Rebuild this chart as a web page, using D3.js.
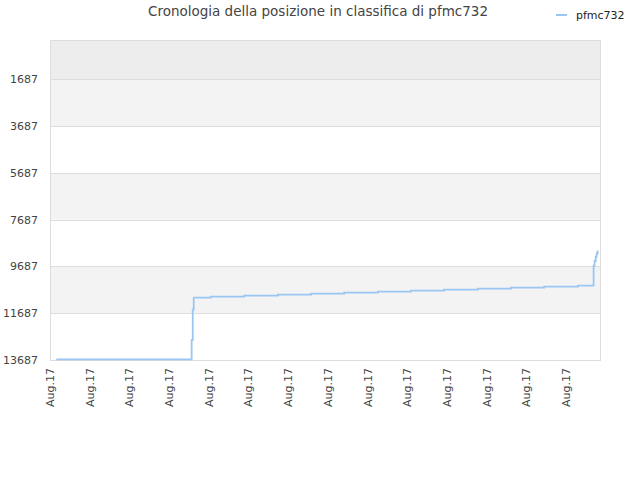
<!DOCTYPE html>
<html>
<head>
<meta charset="utf-8">
<script src="https://cdn.jsdelivr.net/npm/d3@7"></script>
<style>
  body { margin: 0; background: #fff; }
  svg { font-family: "DejaVu Sans", sans-serif; }
</style>
</head>
<body>
<svg></svg>
<script>
const width = 640;
const height = 480;

// hours since start of series, rank position
const hours = [4.5, 101.9, 102.7, 103.4, 115.8, 139.7, 163.9, 187.8, 211.6, 235.9, 259.7, 283.6, 307.8, 331.7, 355.5, 379.8, 391.1, 391.8, 392.6, 393.3, 394.0, 394.6];
const ranks = [13662, 12832, 11519, 11023, 10980, 10937, 10894, 10851, 10808, 10766, 10723, 10680, 10637, 10594, 10551, 10508, 9653, 9453, 9270, 9124, 9039, 9039];

const yTicks = [1687, 3687, 5687, 7687, 9687, 11687, 13687];
const xTicks = [0, 28.6, 57.1, 85.7, 114.2, 142.8, 171.4, 199.9, 228.5, 257.0, 285.6, 314.2, 342.7, 371.3];
const xTickLabels = ["Aug.17", "Aug.17", "Aug.17", "Aug.17", "Aug.17", "Aug.17", "Aug.17", "Aug.17", "Aug.17", "Aug.17", "Aug.17", "Aug.17", "Aug.17", "Aug.17"];
const seriesName = "pfmc732";

const margin = {top: 40, right: 40, bottom: 120, left: 50};
const svg = d3.select("svg").attr("width", width).attr("height", height);

const x = d3.scaleLinear().domain([0, 395.7]).range([margin.left, width - margin.right]);
const y = d3.scaleLinear().domain([1, 13687]).range([margin.top, height - margin.bottom]);

// background bands
const bandEdges = [1, 1687, 3687, 5687, 7687, 9687, 11687, 13687];
const bandFills = ["#ededed", "#f3f3f3", "#ffffff", "#f3f3f3", "#ffffff", "#f3f3f3", "#ffffff"];
svg.append("g").selectAll("rect")
  .data(bandFills)
  .join("rect")
  .attr("x", margin.left)
  .attr("width", x.range()[1] - margin.left)
  .attr("y", (d, i) => y(bandEdges[i]))
  .attr("height", (d, i) => y(bandEdges[i + 1]) - y(bandEdges[i]))
  .attr("fill", d => d);

// gridlines
svg.append("g").selectAll("line")
  .data(yTicks)
  .join("line")
  .attr("x1", margin.left)
  .attr("x2", x.range()[1])
  .attr("y1", d => Math.round(y(d)) + 0.5)
  .attr("y2", d => Math.round(y(d)) + 0.5)
  .attr("stroke", "#dddddd");

// frame
svg.append("rect")
  .attr("x", margin.left + 0.5)
  .attr("y", margin.top + 0.5)
  .attr("width", x.range()[1] - margin.left)
  .attr("height", y.range()[1] - margin.top)
  .attr("fill", "none")
  .attr("stroke", "#dddddd");

// y labels
svg.append("g").selectAll("text")
  .data(yTicks)
  .join("text")
  .attr("x", 38)
  .attr("y", d => y(d))
  .attr("dy", "0.35em")
  .attr("text-anchor", "end")
  .attr("font-size", 11)
  .attr("fill", "#444")
  .text(d => d);

// x labels
svg.append("g").selectAll("text")
  .data(xTicks)
  .join("text")
  .attr("transform", d => `translate(${x(d) + 4},${y.range()[1] + 8}) rotate(-90)`)
  .attr("text-anchor", "end")
  .attr("font-size", 11)
  .attr("fill", "#444")
  .text((d, i) => xTickLabels[i]);

// series line
const line = d3.line()
  .x((d, i) => x(hours[i]))
  .y(d => y(d))
  .curve(d3.curveStepAfter);

svg.append("path")
  .datum(ranks)
  .attr("d", line)
  .attr("fill", "none")
  .attr("stroke", "#99c6f2")
  .attr("stroke-width", 1.8);

// title
svg.append("text")
  .attr("x", 318)
  .attr("y", 16)
  .attr("text-anchor", "middle")
  .attr("font-size", 13.5)
  .attr("fill", "#444")
  .text("Cronologia della posizione in classifica di pfmc732");

// legend
const legend = svg.append("g").attr("transform", "translate(556, 15)");
legend.append("line")
  .attr("x1", 0).attr("x2", 11)
  .attr("stroke", "#99c6f2")
  .attr("stroke-width", 2);
legend.append("text")
  .attr("x", 20)
  .attr("dy", "0.35em")
  .attr("font-size", 11)
  .attr("fill", "#222")
  .text(seriesName);
</script>
</body>
</html>
